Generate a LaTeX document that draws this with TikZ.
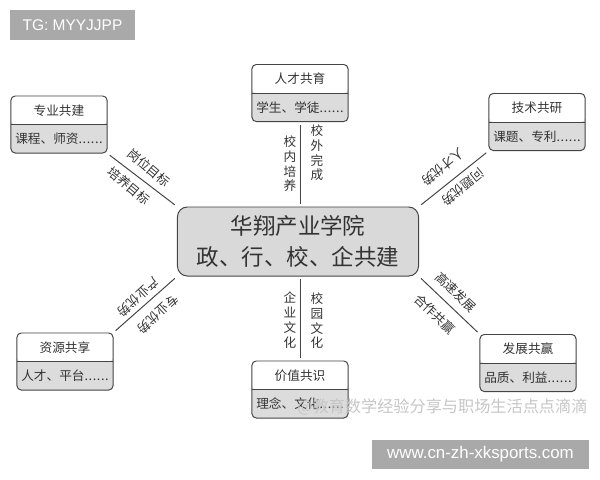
\documentclass[tikz,border=0pt]{standalone}
\usepackage{fontspec}
\setmainfont{Noto Sans CJK SC}
\newfontfamily\latinfont{Liberation Sans}
\usepackage{tikz}
\usetikzlibrary{positioning}

\definecolor{linegray}{HTML}{444444}
\definecolor{boxgray}{HTML}{DCDCDC}
\definecolor{hubgray}{HTML}{D9D9D9}
\definecolor{taggray}{HTML}{A9A9A9}
\definecolor{textgray}{HTML}{333333}

\newcommand\dotrow{\makebox[1.9em][s]{.\hfil.\hfil.\hfil.\hfil.\hfil.}}

\begin{document}
\begin{tikzpicture}[x=0.025cm,y=-0.025cm,every node/.style={text=textgray},every path/.style={line width=0.7pt},
	box/.style={draw=linegray,fill=boxgray,rounded corners=3pt,minimum width=2.4cm,minimum height=1.425cm,inner sep=0pt,align=center,font=\fontsize{9}{20.2}\selectfont,
		path picture={\fill[white] (path picture bounding box.north west) rectangle (path picture bounding box.east);
			\draw[linegray] (path picture bounding box.west) -- (path picture bounding box.east);}},
	hub/.style={draw=linegray,fill=hubgray,rounded corners=7pt,minimum width=6.025cm,minimum height=1.725cm,inner sep=0pt,align=center,font=\fontsize{16}{22}\selectfont},
	lbl/.style={inner sep=0pt,align=center,font=\fontsize{9}{10.5}\selectfont},
	link/.style={draw=linegray,shorten <=2pt,shorten >=2pt},
	tag/.style={fill=taggray,text=white,inner sep=0pt,font=\latinfont\fontsize{11}{13}\selectfont}]
	\useasboundingbox (0,0) rectangle (600,480);

	\node[hub] (hub) at (298,241.5) {华翔产业学院\\政、行、校、企共建};

	\node[box] (zyjs) at (59,124.5) {专业共建\\课程、师资\dotrow};
	\node[box] (rcgy) at (300,93) {人才共育\\学生、学徒\dotrow};
	\node[box] (jsgy) at (537,122) {技术共研\\课题、专利\dotrow};
	\node[box] (zygx) at (65,361.5) {资源共享\\人才、平台\dotrow};
	\node[box] (jzgs) at (300,389.5) {价值共识\\理念、文化\dotrow};
	\node[box] (fzgy) at (528,363) {发展共赢\\品质、利益\dotrow};

	\draw[link] (zyjs.south east) -- (hub.north west);
	\draw[link] (rcgy.south) -- (rcgy.south |- hub.north);
	\draw[link] (jsgy.south west) -- (hub.north east);
	\draw[link] (zygx.north east) -- (hub.south west);
	\draw[link] (jzgs.north) -- (jzgs.north |- hub.south);
	\draw[link] (fzgy.north west) -- (hub.south east);

	\node[lbl,rotate=-40] (gwmb) at (149,168) {岗位目标};
	\node[lbl,rotate=-40] (pymb) at (129,186) {培养目标};
	\node[lbl] (xnpy) at (290,164) {校\\内\\培\\养};
	\node[lbl] (xwwc) at (317,153) {校\\外\\完\\成};
	\node[lbl,rotate=219] (rcys) at (443,167) {人才优势};
	\node[lbl,rotate=219] (wtys) at (463,187) {问题优势};
	\node[lbl,rotate=223] (cyys) at (138,297) {产业优势};
	\node[lbl,rotate=223] (zyys) at (158,314) {专业优势};
	\node[lbl] (qywh) at (290,320) {企\\业\\文\\化};
	\node[lbl] (xywh) at (317,321) {校\\园\\文\\化};
	\node[lbl,rotate=-43] (gsfz) at (456,292) {高速发展};
	\node[lbl,rotate=-43] (hzgy) at (435,314) {合作共赢};

	% marks round the picture
	\node[tag,minimum width=3.125cm,minimum height=0.75cm] (tg) at (72.5,25) {TG: MYYJJPP};
	\node[tag,minimum width=5.425cm,minimum height=0.725cm,font=\latinfont\fontsize{12}{14}\selectfont] (url) at (480.5,454.5) {www.cn-zh-xksports.com};
	\node[anchor=east,inner sep=0pt,text=gray!45,font=\fontsize{11.5}{13}\selectfont] (wm) at (588,407) {@教育数学经验分享与职场生活点点滴滴};
\end{tikzpicture}
\end{document}
